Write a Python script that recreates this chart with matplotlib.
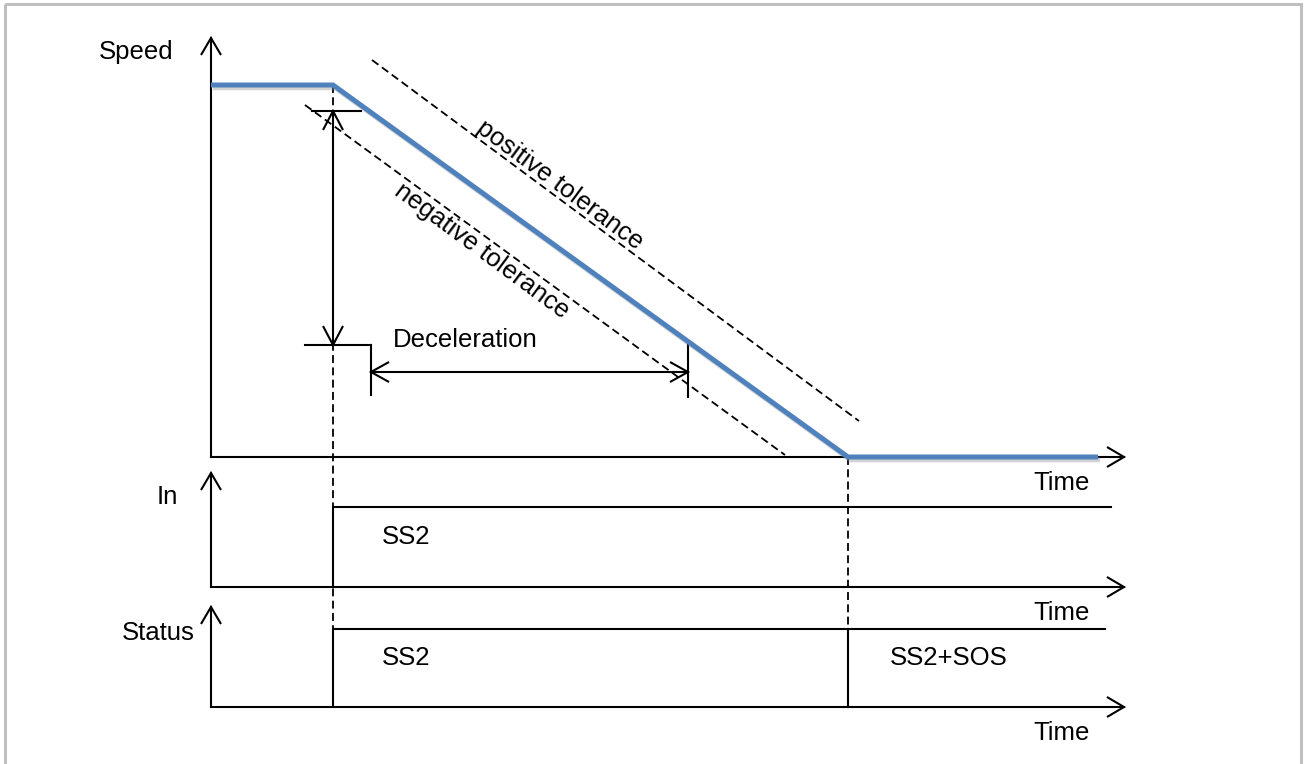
import matplotlib.pyplot as plt
from matplotlib import patheffects as pe
from matplotlib.patches import Rectangle
import numpy as np

plt.rcParams["font.family"] = ["Liberation Sans", "DejaVu Sans"]

# ---- schematic values: time from the axis origin, level above each panel baseline ----
t_ss2 = 122          # SS2 input switched on
t_stop = 637         # speed reaches zero -> SS2+SOS
t_run_end = 887
t_axis = 913

speed_t = [0, t_ss2, t_stop, t_run_end]
speed_v = [372, 372, 0, 0]

in_t = [t_ss2, t_ss2, 900]
in_v = [0, 80, 80]

status_t = [t_ss2, t_ss2, 894]
status_v = [0, 78, 78]
sos_t = [t_stop, t_stop]
sos_v = [0, 78]

pos_tol_t = [161, 648]
pos_tol_v = [397, 36]
neg_tol_t = [94, 574]
neg_tol_v = [352, 2]

decel_v = [346, 112]     # vertical dimension (top, bottom)
decel_t = [160, 477]     # horizontal dimension (left, right)
decel_arrow_v = 85

panel_labels = ["Speed", "In", "Status"]
axis_label = "Time"
state_labels = ["SS2", "SS2", "SS2+SOS"]

# ---- layout (pixels) ----
X0 = 211
base = [457, 587, 707]
axis_top = [38, 473, 607]
FS = 18.5
BLUE = "#4F81BD"
LW = 1.5


def px(t):
    return X0 + np.asarray(t, dtype=float)


def py(i, v):
    return base[i] - np.asarray(v, dtype=float)


def open_head(ax, tip, d, length=17, half=10, lw=LW):
    d = np.asarray(d, float) / np.hypot(*d)
    n = np.array([-d[1], d[0]])
    tip = np.asarray(tip, float)
    back = tip - length * d
    pts = np.array([back + half * n, tip, back - half * n])
    ax.plot(pts[:, 0], pts[:, 1], color="black", lw=lw, solid_capstyle="butt",
            solid_joinstyle="miter")


fig = plt.figure(figsize=(13.07, 7.64), dpi=100)
ax = fig.add_axes([0, 0, 1, 1])
ax.set_xlim(0, 1307)
ax.set_ylim(764, 0)
ax.axis("off")

# frame
ax.add_patch(Rectangle((5, 4), 1296, 800, fill=False, edgecolor="#BFBFBF", lw=2.2))

dash = (0, (4.4, 2.4))
dlw = 1.3
# dashed guides
ax.plot(px([t_ss2, t_ss2]), [py(0, speed_v[1]), py(2, status_v[1])], color="black", lw=dlw, ls=dash)
ax.plot(px([t_stop, t_stop]), [py(0, 0), py(2, status_v[1])], color="black", lw=dlw, ls=dash)
ax.plot(px(pos_tol_t), py(0, pos_tol_v), color="black", lw=dlw, ls=dash)
ax.plot(px(neg_tol_t), py(0, neg_tol_v), color="black", lw=dlw, ls=dash)

# axes of the three panels
for i in range(3):
    ax.plot([X0, X0 + t_axis], [base[i], base[i]], color="black", lw=LW)
    open_head(ax, (X0 + t_axis, base[i]), (1, 0))
    ax.plot([X0, X0], [base[i], axis_top[i]], color="black", lw=LW)
    open_head(ax, (X0, axis_top[i]), (0, -1))
    ax.text(1090, base[i] + 26, axis_label, fontsize=FS, ha="right", va="center")

ax.text(173, 52, panel_labels[0], fontsize=FS, ha="right", va="center")
ax.text(178, 497, panel_labels[1], fontsize=FS, ha="right", va="center")
ax.text(195, 633, panel_labels[2], fontsize=FS, ha="right", va="center")

# input and status signals
ax.plot(px(in_t), py(1, in_v), color="black", lw=LW)
ax.plot(px(status_t), py(2, status_v), color="black", lw=LW)
ax.plot(px(sos_t), py(2, sos_v), color="black", lw=LW)
ax.text(px(t_ss2) + 49, py(1, 50), state_labels[0], fontsize=FS, ha="left", va="center")
ax.text(px(t_ss2) + 49, py(2, 49), state_labels[1], fontsize=FS, ha="left", va="center")
ax.text(px(t_stop) + 42, py(2, 49), state_labels[2], fontsize=FS, ha="left", va="center")

# deceleration dimensioning
xs = px(t_ss2)
ax.plot([xs, xs], py(0, decel_v), color="black", lw=LW)
open_head(ax, (xs, py(0, decel_v[0])), (0, -1), length=19)
open_head(ax, (xs, py(0, decel_v[1])), (0, 1), length=19)
ax.plot(px([101, 150]), py(0, [decel_v[0], decel_v[0]]), color="black", lw=LW)
ax.plot(px([94, decel_t[0]]), py(0, [decel_v[1], decel_v[1]]), color="black", lw=LW)
ax.plot(px([decel_t[0], decel_t[0]]), py(0, [decel_v[1], 62]), color="black", lw=LW)
ax.plot(px([decel_t[1], decel_t[1]]), py(0, [114, 60]), color="black", lw=LW)
ax.plot(px(decel_t), py(0, [decel_arrow_v, decel_arrow_v]), color="black", lw=LW)
open_head(ax, (px(decel_t[0]), py(0, decel_arrow_v)), (-1, 0), length=18)
open_head(ax, (px(decel_t[1]), py(0, decel_arrow_v)), (1, 0), length=18)
ax.text(393, 340, "Deceleration", fontsize=FS, ha="left", va="center")

# tolerance labels
ax.text(560, 185, "positive tolerance", fontsize=FS, ha="center", va="center", rotation=-36.5)
ax.text(482, 251, "negative tolerance", fontsize=FS, ha="center", va="center", rotation=-36.5)

# speed profile
ax.plot(px(speed_t), py(0, speed_v), color=BLUE, lw=3.6, solid_capstyle="butt",
        solid_joinstyle="miter",
        path_effects=[pe.SimpleLineShadow(offset=(1.5, -2), shadow_color="gray", alpha=0.35),
                      pe.Normal()], zorder=5)

fig.savefig("out.png", dpi=100)
